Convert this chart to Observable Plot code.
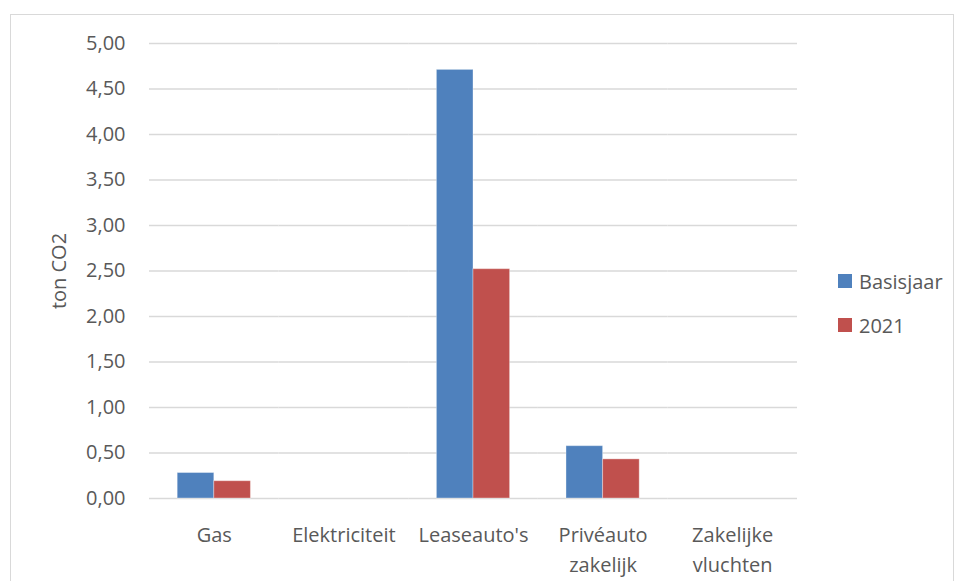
<!DOCTYPE html>
<html>
<head>
<meta charset="utf-8">
<script src="https://cdn.jsdelivr.net/npm/d3@7"></script>
<script src="https://cdn.jsdelivr.net/npm/@observablehq/plot@0.6"></script>
<style>
  html, body { margin: 0; padding: 0; background: #fff; }
  #wrap { position: relative; width: 958px; height: 581px; overflow: hidden; font-family: "Open Sans", sans-serif; }
  #frame { position: absolute; left: 10px; top: 14px; width: 944px; height: 600px; border: 1px solid #d9d9d9; box-sizing: border-box; }
  #chart { position: absolute; left: 0; top: 0; }
  #legend { position: absolute; left: 838px; top: 266px; font-size: 20px; color: #595959; }
  .item { display: flex; align-items: center; height: 30px; margin-bottom: 14px; }
  .sw { width: 14px; height: 14px; margin-right: 7px; }
</style>
</head>
<body>
<div id="wrap">
  <div id="frame"></div>
  <div id="chart"></div>
  <div id="legend"></div>
</div>
<script>
const categories = ["Gas", "Elektriciteit", "Leaseauto's", "Privéauto\nzakelijk", "Zakelijke\nvluchten"];
const series = ["Basisjaar", "2021"];
const basisjaar = [0.28, 0, 4.71, 0.575, 0];
const jaar2021 = [0.19, 0, 2.52, 0.43, 0];
const colors = ["#4f81bd", "#c0504d"];
const yTicks = [0, 0.5, 1, 1.5, 2, 2.5, 3, 3.5, 4, 4.5, 5];

const data = [];
categories.forEach((c, i) => {
  data.push({cat: c, serie: series[0], value: basisjaar[i]});
  data.push({cat: c, serie: series[1], value: jaar2021[i]});
});

const fmt = d => d.toFixed(2).replace(".", ",");

const chart = Plot.plot({
  width: 958,
  height: 581,
  marginLeft: 149,
  marginRight: 161,
  marginTop: 43,
  marginBottom: 83,
  style: {fontFamily: "'Open Sans', sans-serif", fontSize: "20px", color: "#595959", background: "transparent"},
  fx: {domain: categories, padding: 0, label: null, axis: null, round: false},
  x: {domain: series, paddingInner: 0, paddingOuter: 0.77, axis: null, round: false},
  y: {domain: [0, 5], ticks: yTicks, label: null},
  color: {domain: series, range: colors},
  marks: [
    Plot.ruleY(yTicks, {stroke: "#d9d9d9", strokeWidth: 1.5}),
    Plot.barY(data, {fx: "cat", x: "serie", y: "value", fill: "serie", stroke: "#ffffff", strokeOpacity: 0.35, strokeWidth: 1}),
    Plot.axisY({ticks: yTicks, tickFormat: fmt, tickSize: 0, tickPadding: 24, fontSize: 20, fill: "#595959",
                label: "ton CO2", labelAnchor: "center", labelArrow: "none", labelOffset: 98}),
    Plot.axisFx({anchor: "bottom", tickSize: 0, tickPadding: 22, fontSize: 20, fill: "#595959", label: null, lineHeight: 1.5})
  ]
});
document.getElementById("chart").appendChild(chart);

const legend = document.getElementById("legend");
series.forEach((s, i) => {
  const item = document.createElement("div");
  item.className = "item";
  const sw = document.createElement("div");
  sw.className = "sw";
  sw.style.background = colors[i];
  const t = document.createElement("span");
  t.textContent = s;
  item.appendChild(sw);
  item.appendChild(t);
  legend.appendChild(item);
});
</script>
</body>
</html>
